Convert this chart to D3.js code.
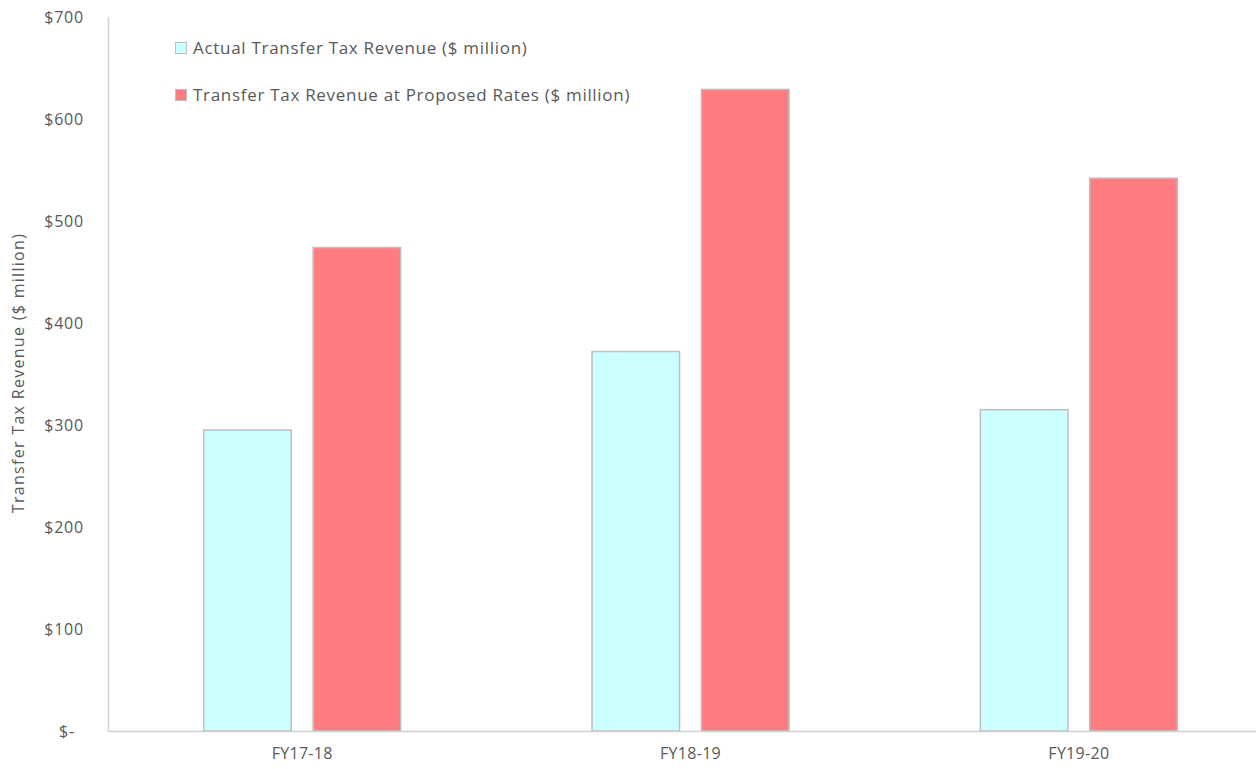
<!DOCTYPE html>
<html>
<head>
<meta charset="utf-8">
<script src="https://cdnjs.cloudflare.com/ajax/libs/d3/7.8.5/d3.min.js"></script>
<style>
  html, body { margin: 0; padding: 0; background: #ffffff; }
  svg { display: block; }
  text { font-family: "Open Sans", Lato, "Liberation Sans", sans-serif; fill: #595959; }
</style>
</head>
<body>
<svg id="chart" width="1256" height="769"></svg>
<script>
// Fiscal years on the category axis
const categories = ["FY17-18", "FY18-19", "FY19-20"];
// Revenue series, $ million
const seriesNames = [
  "Actual Transfer Tax Revenue ($ million)",
  "Transfer Tax Revenue at Proposed Rates ($ million)"
];
const actualRevenue = [295, 372, 315];
const proposedRevenue = [474, 629, 542];
const yTicks = [0, 100, 200, 300, 400, 500, 600, 700];
const seriesColors = ["#CCFFFF", "#FF7C80"];

const svg = d3.select("#chart");
const margin = { left: 108, top: 17, bottom: 731 };

const x0 = d3.scaleBand().domain(categories).range([margin.left, margin.left + 1165]).padding(0);
const groupWidth = 197;
const x1 = d3.scaleBand().domain(seriesNames).range([0, groupWidth]).paddingInner(0.2).paddingOuter(0);
const y = d3.scaleLinear().domain([0, 700]).range([margin.bottom, margin.top]);

const rows = categories.map((c, i) => ({
  cat: c,
  values: [actualRevenue[i], proposedRevenue[i]]
}));

// Bars
const groups = svg.selectAll("g.grp").data(rows).join("g")
  .attr("class", "grp")
  .attr("transform", d => `translate(${x0(d.cat) + (x0.bandwidth() - groupWidth) / 2},0)`);

groups.selectAll("rect").data(d => d.values.map((v, j) => ({ v, j }))).join("rect")
  .attr("x", d => x1(seriesNames[d.j]))
  .attr("y", d => y(d.v))
  .attr("width", x1.bandwidth())
  .attr("height", d => y(0) - y(d.v))
  .attr("fill", d => seriesColors[d.j])
  .attr("stroke", "#BFBFBF")
  .attr("stroke-width", 1.5);

// Y axis
const yAxis = d3.axisLeft(y).tickValues(yTicks).tickSize(0).tickPadding(24)
  .tickFormat(d => d === 0 ? "$-" : "$" + d);
const yg = svg.append("g").attr("transform", `translate(${margin.left},0)`).call(yAxis);
yg.select(".domain").attr("stroke", "#D0D0D0").attr("stroke-width", 1.5);
yg.selectAll(".tick text")
  .style("font-size", "16px")
  .style("letter-spacing", "0.8px")
  .attr("fill", "#595959")
  .attr("dx", d => d === 0 ? -9 : 0);

// X axis
const xAxis = d3.axisBottom(x0).tickSize(0).tickPadding(17);
const xg = svg.append("g").attr("transform", `translate(0,${margin.bottom})`).call(xAxis);
xg.select(".domain").attr("stroke", "#D0D0D0").attr("stroke-width", 1.5);
xg.selectAll(".tick text").style("font-size", "16px").style("letter-spacing", "0.3px").attr("fill", "#595959");

// Y axis title
svg.append("text")
  .attr("transform", `translate(24,373) rotate(-90)`)
  .attr("text-anchor", "middle")
  .style("font-size", "16px")
  .style("letter-spacing", "1.3px")
  .text("Transfer Tax Revenue ($ million)");

// Legend
const legend = svg.append("g").attr("transform", "translate(175,42)");
seriesNames.forEach((name, i) => {
  const g = legend.append("g").attr("transform", `translate(0,${i * 47})`);
  g.append("rect").attr("x", 0.5).attr("y", 0.5).attr("width", 11).attr("height", 11)
    .attr("fill", seriesColors[i]).attr("stroke", "#BFBFBF").attr("stroke-width", 1);
  g.append("text").attr("x", 18).attr("y", 6).attr("dy", "0.35em")
    .style("font-size", "17px").style("letter-spacing", "0.7px").text(name);
});
</script>
</body>
</html>
